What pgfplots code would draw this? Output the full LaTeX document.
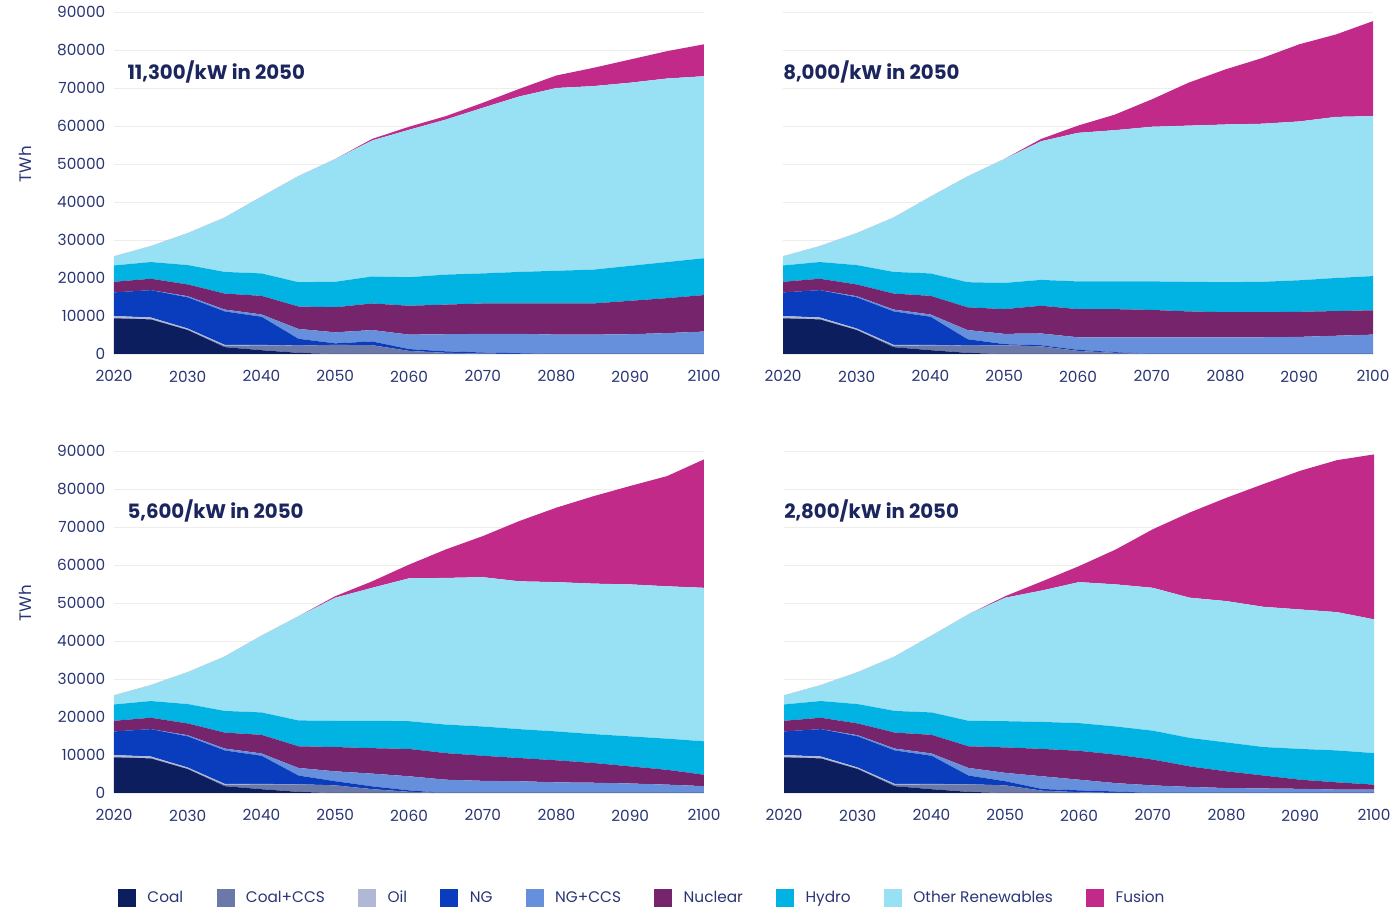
\documentclass[border=0pt]{standalone}
\usepackage{fontspec}
\setmainfont{Poppins}
\usepackage{pgfplots}
\usepackage{pgfplotstable}
\pgfplotsset{compat=1.18}

\definecolor{cCoal}{HTML}{0C1E5E}
\definecolor{cCoalCCS}{HTML}{6A79A8}
\definecolor{cOil}{HTML}{B0B8D6}
\definecolor{cNG}{HTML}{0A3DBE}
\definecolor{cNGCCS}{HTML}{6690DB}
\definecolor{cNuc}{HTML}{76246C}
\definecolor{cHydro}{HTML}{00B3E3}
\definecolor{cRen}{HTML}{98E0F3}
\definecolor{cFus}{HTML}{C22A8A}
\definecolor{tickcol}{HTML}{2A3575}
\definecolor{annotcol}{HTML}{1B255E}

% 11,300/kW in 2050
\pgfplotstableread{
year coal ccs oil ng ngccs nuc hydro ren fus
2020 9400 0 600 6200 0 2800 4300 2400 0
2025 9100 0 500 7200 0 3000 4400 4200 0
2030 6300 0 400 8200 300 3100 5100 8400 0
2035 1800 300 300 8800 500 4200 5700 14300 0
2040 1000 1300 100 7400 600 4900 5900 20200 0
2045 300 1900 0 1800 2600 5900 6400 27900 0
2050 0 2400 0 400 2900 6600 6700 32300 0
2055 0 2300 0 1000 3000 7000 7100 35800 400
2060 0 800 0 500 3800 7600 7500 38800 800
2065 0 300 0 400 4500 7800 7900 40800 900
2070 0 100 0 300 4900 8000 7900 43600 1300
2075 0 0 0 200 5100 8000 8300 46200 2000
2080 0 0 0 0 5100 8200 8600 48100 3300
2085 0 0 0 0 5100 8200 8900 48300 4800
2090 0 0 0 0 5200 8800 9200 48200 6100
2095 0 0 0 0 5500 9200 9500 48300 7200
2100 0 0 0 0 5900 9600 9700 47900 8400
}\dataA

% 8,000/kW in 2050
\pgfplotstableread{
year coal ccs oil ng ngccs nuc hydro ren fus
2020 9400 0 600 6200 0 2800 4300 2400 0
2025 9100 0 500 7200 0 3000 4400 4200 0
2030 6300 0 400 8200 300 3100 5100 8400 0
2035 1800 300 300 8800 500 4200 5700 14300 0
2040 1000 1300 100 7400 600 4900 5900 20200 0
2045 300 1900 0 1700 2400 6000 6600 27800 0
2050 0 2300 0 300 2700 6500 6900 32600 0
2055 0 2000 0 300 3100 7300 6800 36500 600
2060 0 800 0 300 3300 7400 7300 39100 1900
2065 0 300 0 200 3900 7400 7300 39800 4100
2070 0 0 0 0 4400 7200 7500 40700 7200
2075 0 0 0 0 4400 6800 7800 41100 11300
2080 0 0 0 0 4400 6600 7900 41500 14500
2085 0 0 0 0 4400 6600 8000 41600 17300
2090 0 0 0 0 4500 6600 8300 41800 20300
2095 0 0 0 0 4800 6500 8700 42400 21700
2100 0 0 0 0 5100 6400 9000 42100 25000
}\dataB

% 5,600/kW in 2050
\pgfplotstableread{
year coal ccs oil ng ngccs nuc hydro ren fus
2020 9400 0 600 6200 0 2800 4300 2400 0
2025 9100 0 500 7200 0 3000 4400 4200 0
2030 6300 0 400 8200 300 3100 5100 8400 0
2035 1800 300 300 8800 500 4200 5700 14300 0
2040 1000 1300 100 7400 600 4900 5900 20200 0
2045 300 2000 0 2300 2000 5700 6800 27400 0
2050 0 2000 0 1100 2600 6400 6900 32400 400
2055 0 1000 0 750 3350 6700 7200 35000 1700
2060 0 300 0 400 3700 7200 7300 37600 3600
2065 0 0 0 0 3500 7000 7500 38600 7500
2070 0 0 0 0 3200 6600 7700 39300 10800
2075 0 0 0 0 3100 6100 7600 38900 15900
2080 0 0 0 0 2800 5800 7600 39300 19600
2085 0 0 0 0 2700 5200 7600 39600 23000
2090 0 0 0 0 2500 4500 7900 40000 25900
2095 0 0 0 0 2200 3900 8200 40100 29000
2100 0 0 0 0 1800 3000 8800 40400 33800
}\dataC

% 2,800/kW in 2050
\pgfplotstableread{
year coal ccs oil ng ngccs nuc hydro ren fus
2020 9400 0 600 6200 0 2800 4300 2400 0
2025 9100 0 500 7200 0 3000 4400 4200 0
2030 6300 0 400 8200 300 3100 5100 8400 0
2035 1800 300 300 8800 500 4200 5700 14300 0
2040 1000 1300 100 7400 600 4900 5900 20200 0
2045 300 2000 0 2300 2000 5700 6700 28000 0
2050 0 2000 0 1100 2200 6700 6900 32500 400
2055 0 600 0 450 3350 7200 7100 34600 2400
2060 0 200 0 500 2800 7600 7300 37100 4200
2065 0 0 0 400 2200 7500 7400 37400 9200
2070 0 0 0 0 2000 6800 7600 37600 15400
2075 0 0 0 0 1600 5400 7500 36900 22400
2080 0 0 0 0 1300 4400 7600 37200 27200
2085 0 0 0 0 1200 3400 7500 36900 32300
2090 0 0 0 0 1100 2400 8100 36700 36500
2095 0 0 0 0 900 1900 8400 36400 40000
2100 0 0 0 0 900 1300 8300 35200 43400
}\dataD

\newcommand\stackall[1]{%
  \addplot[fill=cCoal, draw=none] table[x=year,y=coal]{#1} \closedcycle;
  \addplot[fill=cCoalCCS, draw=none] table[x=year,y=ccs]{#1} \closedcycle;
  \addplot[fill=cOil, draw=none] table[x=year,y=oil]{#1} \closedcycle;
  \addplot[fill=cNG, draw=none] table[x=year,y=ng]{#1} \closedcycle;
  \addplot[fill=cNGCCS, draw=none] table[x=year,y=ngccs]{#1} \closedcycle;
  \addplot[fill=cNuc, draw=none] table[x=year,y=nuc]{#1} \closedcycle;
  \addplot[fill=cHydro, draw=none] table[x=year,y=hydro]{#1} \closedcycle;
  \addplot[fill=cRen, draw=none] table[x=year,y=ren]{#1} \closedcycle;
  \addplot[fill=cFus, draw=none] table[x=year,y=fus]{#1} \closedcycle;
}

\tikzset{annotstyle/.style={anchor=west, inner sep=0pt, font=\bfseries\fontsize{14.8}{17}\selectfont, text=annotcol}}

\pgfplotsset{
  panel/.style={
    scale only axis, width=442.5pt, height=256.5pt,
    anchor=south west,
    xmin=2020, xmax=2100, ymin=0, ymax=90000,
    xtick={2020,2030,...,2100}, ytick={0,10000,...,90000},
    ymajorgrids, grid style={color=black!7, line width=0.7pt},
    axis line style={draw=none}, tick style={draw=none}, major tick length=0pt,
    stack plots=y,
    ticklabel style={font=\fontsize{11.5}{13}\selectfont, text=tickcol},
    xticklabel style={yshift=-9pt},
    yticklabel style={xshift=-3pt},
    /pgf/number format/1000 sep={},
    /pgf/number format/assume math mode=true,
    scaled y ticks=false,
    every axis y label/.style={at={(axis description cs:-0.151,0.555)}, rotate=90, anchor=center, font=\fontsize{12.5}{14}\selectfont, text=tickcol},
  },
  noy/.style={yticklabels={}},
}

\begin{document}
\begin{tikzpicture}
\path[use as bounding box] (0,0) rectangle (1044.75pt,680.25pt);

% top-left
\begin{axis}[panel, at={(85.5pt,414.75pt)}, ylabel={TWh}]
\stackall{\dataA}
\node[annotstyle] at (axis cs:2021.8,74200) {11,300/kW in 2050};
\end{axis}

% top-right
\begin{axis}[panel, noy, at={(587.25pt,414.75pt)}]
\stackall{\dataB}
\node[annotstyle] at (axis cs:2020,74200) {8,000/kW in 2050};
\end{axis}

% bottom-left
\begin{axis}[panel, at={(85.5pt,85.5pt)}, ylabel={TWh},
  legend columns=9,
  legend image code/.code={\fill[#1] (0pt,-6.75pt) rectangle (13.5pt,6.75pt);},
  legend style={at={(axis description cs:0.007,-0.307)}, anchor=west, draw=none, fill=none,
    inner sep=0pt, outer sep=0pt, font=\fontsize{11.5}{13}\selectfont, text=tickcol,
    /tikz/every odd column/.append style={column sep=6.5pt},
    /tikz/every even column/.append style={column sep=23pt}},
  legend entries={Coal,Coal+CCS,Oil,NG,NG+CCS,Nuclear,Hydro,Other Renewables,Fusion}]
\stackall{\dataC}
\node[annotstyle] at (axis cs:2021.8,74200) {5,600/kW in 2050};
\end{axis}

% bottom-right
\begin{axis}[panel, noy, at={(588pt,85.5pt)}]
\stackall{\dataD}
\node[annotstyle] at (axis cs:2020,74200) {2,800/kW in 2050};
\end{axis}
\end{tikzpicture}
\end{document}
